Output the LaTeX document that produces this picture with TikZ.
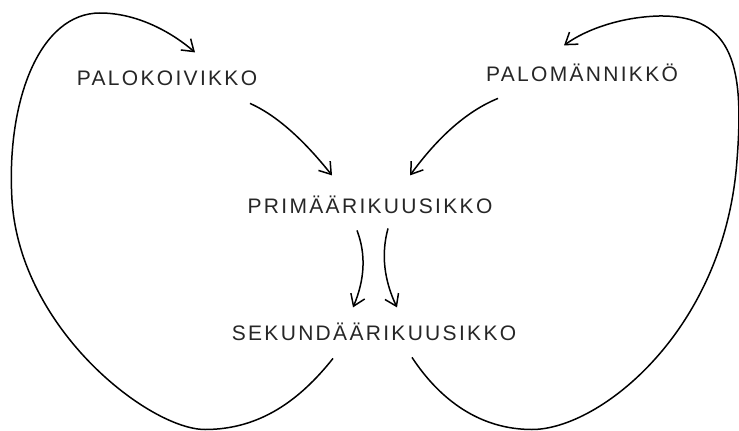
\documentclass[tikz,border=0pt]{standalone}
\usepackage{fontspec}
\newfontfamily\labfont{Liberation Sans}[LetterSpace=11]
\usetikzlibrary{arrows.meta}
\tikzset{
  lab/.style={font=\labfont\fontsize{21}{25}\selectfont, inner sep=0pt, anchor=base, text=black!85},
  conn/.style={line width=1.5pt, -{Straight Barb[length=11pt,width=15pt,line width=1.5pt]}},
  loopline/.style={line width=1.5pt, -{Straight Barb[length=11pt,width=15pt,line width=1.5pt]}}
}
\begin{document}
\begin{tikzpicture}[x=1pt,y=-1pt]
\useasboundingbox (0,0) rectangle (739,431);
\node[lab] (palok) at (167,85) {PALOKOIVIKKO};
\node[lab] (palom) at (582,81) {PALOMÄNNIKKÖ};
\node[lab] (prim) at (370,213) {PRIMÄÄRIKUUSIKKO};
\node[lab] (sek) at (374,340) {SEKUNDÄÄRIKUUSIKKO};

% connectors between the labels
\draw[conn] ([shift={(83,18)}]palok.south) .. controls (276,115) and (303,139) .. ([shift={(-38,-38)}]prim.south);
\draw[conn] ([shift={(-84,17)}]palom.south) .. controls (467,111) and (438,137) .. ([shift={(40,-38)}]prim.south);
\draw[conn] ([shift={(-13,17)}]prim.south) .. controls (366,254) and (365,279) .. ([shift={(-21,-33)}]sek.south);
\draw[conn] ([shift={(18,15)}]prim.south) .. controls (381,254) and (384,280) .. ([shift={(23,-33)}]sek.south);

% big loops
\coordinate (ls) at ([shift={(-41,18)}]sek.south);
\coordinate (le) at ([shift={(28,-33)}]palok.south);
\coordinate (rs) at ([shift={(38,17)}]sek.south);
\coordinate (re) at ([shift={(-18,-36)}]palom.south);
\draw[loopline] (ls) .. controls (300,400) and (260,429.5) .. (205,429.5)
  .. controls (150,429.5) and (20,330) .. (12,200)
  .. controls (6,100) and (40,13) .. (100,13)
  .. controls (140,13) and (175,35) .. (le);
\draw[loopline] (rs) .. controls (440,400) and (480,429.5) .. (532,429.5)
  .. controls (600,429.5) and (725,330) .. (737,160)
  .. controls (744,70) and (735,15) .. (659,16)
  .. controls (620,17) and (585,30) .. (re);
\end{tikzpicture}
\end{document}
